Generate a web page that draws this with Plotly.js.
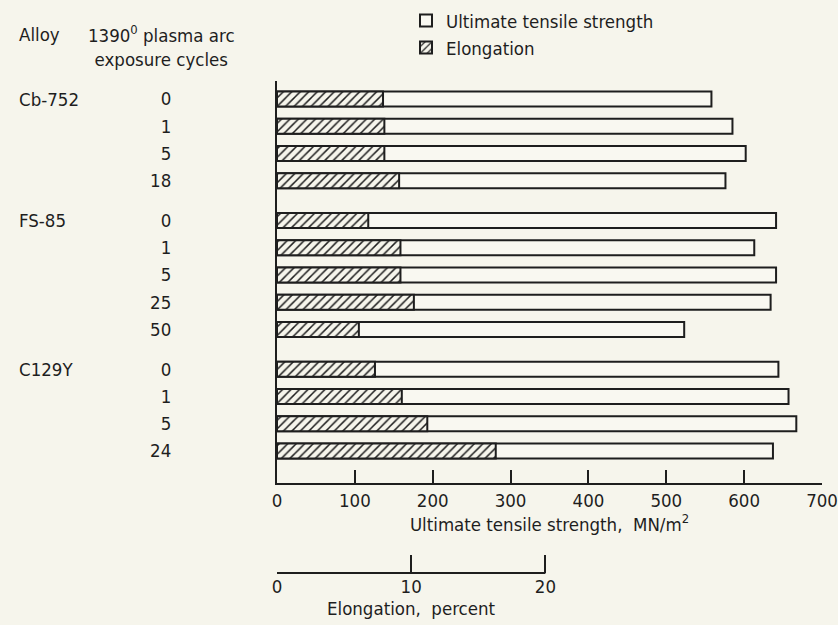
<!DOCTYPE html>
<html><head><meta charset="utf-8">
<script src="https://cdn.plot.ly/plotly-3.0.1.min.js"></script>
<style>html,body{margin:0;padding:0;background:#f6f5ec}</style>
</head><body><div id="chart" style="width:838px;height:625px"></div>
<script>
// ---- data ----
const alloys = ['Cb-752', 'FS-85', 'C129Y'];
const cyclesCb752 = ['0', '1', '5', '18'];
const cyclesFS85 = ['0', '1', '5', '25', '50'];
const cyclesC129Y = ['0', '1', '5', '24'];
const utsCb752 = [558, 585, 602, 576];
const utsFS85 = [641, 613, 641, 634, 523];
const utsC129Y = [644, 657, 667, 637];
const elongCb752 = [7.9, 8.0, 8.0, 9.1];
const elongFS85 = [6.8, 9.2, 9.2, 10.2, 6.1];
const elongC129Y = [7.3, 9.3, 11.2, 16.3];
const utsTicks = [0, 100, 200, 300, 400, 500, 600, 700];
const elongTicks = [0, 10, 20];

// ---- layout helpers ----
const cycles = [cyclesCb752, cyclesFS85, cyclesC129Y];
const uts = [utsCb752, utsFS85, utsC129Y];
const elong = [elongCb752, elongFS85, elongC129Y];
const GAP = 0.45;
const pos = [], tt = [], u = [], e = [], groupStart = [];
let row = 0;
alloys.forEach((a, g) => {
  groupStart.push(row + g * GAP);
  cycles[g].forEach((c, i) => {
    pos.push(row + g * GAP); tt.push(c);
    u.push(uts[g][i]); e.push(elong[g][i]);
    row++;
  });
});

const BG = '#f6f5ec';
const INK = '#1e1e1e';
const FONT = "'DejaVu Sans Condensed', 'Liberation Sans Narrow', sans-serif";
const FS = 18.5;
const W = 838, H = 625, ML = 277, MR = 16, MT = 81, MB = 52;
const PW = W - ML - MR, PH = H - MT - MB;
const px2xp = x => (x - ML) / PW;
const px2yp = y => 1 - (y - MT) / PH;
const pxPerPct = 13.42;
const pxPerUnit = 27.29;
const lastPos = pos[pos.length - 1];

const traces = [
  {
    type: 'bar', orientation: 'h', name: 'Ultimate tensile strength',
    x: u, y: pos, xaxis: 'x', yaxis: 'y', width: 0.55,
    marker: {color: '#f9f8f1', line: {color: INK, width: 2}},
    hoverinfo: 'skip'
  },
  {
    type: 'bar', orientation: 'h', name: 'Elongation',
    x: e, y: pos, xaxis: 'x2', yaxis: 'y', width: 0.55,
    marker: {color: BG, line: {color: INK, width: 2},
      pattern: {shape: '/', fgcolor: INK, bgcolor: BG, size: 6, solidity: 0.25}},
    hoverinfo: 'skip'
  }
];

const layout = {
  width: W, height: H,
  margin: {l: ML, r: MR, t: MT, b: MB, pad: 0, autoexpand: false},
  paper_bgcolor: BG, plot_bgcolor: 'rgba(0,0,0,0)',
  font: {family: FONT, size: FS, color: INK},
  barmode: 'overlay',
  showlegend: true,
  legend: {x: px2xp(406), y: px2yp(2), xanchor: 'left', yanchor: 'top',
    bgcolor: 'rgba(0,0,0,0)', font: {size: FS}, tracegroupgap: 0, traceorder: 'normal'},
  xaxis: {
    range: [0, 700], anchor: 'y', showgrid: false, zeroline: false,
    showline: true, linecolor: INK, linewidth: 2,
    ticks: 'inside', ticklen: 13, tickwidth: 2, tickcolor: INK,
    tickvals: utsTicks, ticktext: utsTicks.map(String),
    title: {text: 'Ultimate tensile strength,  MN/m<sup>2</sup>', standoff: 2, font: {size: FS}}
  },
  xaxis2: {
    overlaying: 'x', anchor: 'free', position: 0,
    range: [0, PW / pxPerPct], showgrid: false, zeroline: false, showline: false,
    ticks: 'inside', ticklen: 18, tickwidth: 2, tickcolor: INK,
    tickvals: elongTicks, ticktext: elongTicks.map(String)
  },
  yaxis: {
    domain: [(H - MB - 483) / PH, 1],
    range: [lastPos + 32 / pxPerUnit, -18 / pxPerUnit],
    showgrid: false, zeroline: false, showline: true, linecolor: INK, linewidth: 2,
    ticks: '', tickvals: pos, ticktext: tt, ticklabelstandoff: 100
  },
  shapes: [
    {type: 'line', xref: 'x2', yref: 'paper', x0: elongTicks[0], x1: elongTicks[elongTicks.length - 1],
     y0: 0, y1: 0, line: {color: INK, width: 2}}
  ],
  annotations: [
    {xref: 'paper', yref: 'paper', x: px2xp(17), y: px2yp(35), xanchor: 'left', yanchor: 'middle',
     text: 'Alloy', showarrow: false},
    {xref: 'paper', yref: 'paper', x: px2xp(161), y: px2yp(46), xanchor: 'center', yanchor: 'middle',
     text: '1390<sup>0</sup> plasma arc<br>exposure cycles', showarrow: false, align: 'center'},
    {xref: 'x2', yref: 'paper', x: (elongTicks[0] + elongTicks[elongTicks.length - 1]) / 2, y: 0,
     yshift: -35, xanchor: 'center', yanchor: 'middle', text: 'Elongation,  percent', showarrow: false}
  ].concat(alloys.map((a, g) => ({
    xref: 'paper', yref: 'y', x: px2xp(17), y: groupStart[g], xanchor: 'left', yanchor: 'middle',
    text: a, showarrow: false
  }))),
  hovermode: false
};

Plotly.newPlot('chart', traces, layout, {displayModeBar: false, staticPlot: true});
</script>
</body></html>
